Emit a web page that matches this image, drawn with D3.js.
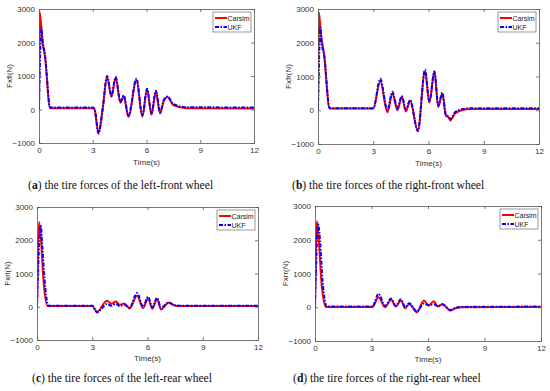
<!DOCTYPE html>
<html>
<head>
<meta charset="utf-8">
<script src="https://cdn.jsdelivr.net/npm/d3@7"></script>
<style>
  body { margin: 0; background: #fff; }
  svg { display: block; }
</style>
</head>
<body>
<div id="chart"></div>
<script>
/* data: time (s) and force (N) */
var xTicks = [0, 3, 6, 9, 12],
    yTicks = [-1000, 0, 1000, 2000, 3000];

var carsimTimeA = [0, 0.04, 0.12, 0.2, 0.33, 0.62, 3.0, 3.1, 3.32, 3.55, 3.8, 4.04, 4.28, 4.54, 4.73, 4.99, 5.44, 5.77, 6.03, 6.28, 6.52, 6.76, 6.96, 7.17, 7.5, 8.2, 12];
var carsimA     = [0, 2900, 2500, 2000, 1600, 40, 40, 0, -700, 0, 980, 380, 950, 200, 400, -220, 880, -220, 600, -150, 530, -120, 250, 370, 130, 40, 30];
var ukfTimeA    = [0, 0.13, 0.2, 0.33, 0.62, 3.0, 3.1, 3.32, 3.55, 3.8, 4.04, 4.28, 4.54, 4.73, 4.99, 5.44, 5.77, 6.03, 6.28, 6.52, 6.76, 6.96, 7.17, 7.5, 8.2, 12];
var ukfA        = [0, 2450, 2050, 1650, 60, 60, 20, -720, 0, 1000, 400, 970, 230, 420, -180, 920, -170, 620, -120, 560, -80, 280, 390, 160, 70, 60];

var carsimTimeB = [0, 0.05, 0.15, 0.33, 0.63, 3.0, 3.38, 3.77, 4.04, 4.31, 4.55, 4.77, 5.0, 5.42, 5.81, 6.05, 6.32, 6.53, 6.75, 6.95, 7.08, 7.18, 7.44, 7.8, 8.3, 12];
var carsimB     = [0, 2900, 2300, 1650, 50, 50, 850, -60, 500, 0, 400, -40, 280, -600, 1150, 230, 1150, 100, 500, -170, -200, -300, -100, 0, 40, 40];
var ukfTimeB    = [0, 0.13, 0.2, 0.33, 0.63, 3.0, 3.38, 3.77, 4.04, 4.31, 4.55, 4.77, 5.0, 5.42, 5.81, 6.05, 6.32, 6.53, 6.75, 6.95, 7.08, 7.18, 7.44, 7.8, 8.3, 12];
var ukfB        = [0, 2450, 2000, 1650, 60, 60, 930, 10, 550, 60, 420, 20, 300, -620, 1200, 250, 1150, 130, 520, -150, -180, -260, -60, 30, 60, 60];

var carsimTimeC = [0, 0.12, 0.22, 0.35, 0.58, 3.0, 3.26, 3.8, 4.04, 4.29, 4.49, 4.74, 5.03, 5.43, 5.76, 6.03, 6.26, 6.52, 6.73, 7.15, 7.45, 7.8, 12];
var carsimC     = [0, 2550, 2000, 800, 20, 20, -150, 180, 90, 160, 60, 100, -50, 330, -40, 250, -60, 230, -80, 120, 40, 20, 20];
var ukfTimeC    = [0, 0.2, 0.28, 0.4, 0.62, 3.0, 3.26, 3.8, 4.04, 4.29, 4.49, 4.74, 5.03, 5.43, 5.76, 6.03, 6.26, 6.52, 6.73, 7.15, 7.45, 7.8, 12];
var ukfC        = [0, 2450, 1900, 900, 30, 30, -170, 80, 30, 90, 20, 60, -30, 410, 0, 300, -20, 270, -30, 130, 50, 30, 30];

var carsimTimeD = [0, 0.1, 0.2, 0.35, 0.58, 3.05, 3.37, 3.72, 4.04, 4.29, 4.56, 4.79, 5.0, 5.41, 5.78, 6.03, 6.31, 6.52, 6.77, 7.18, 7.45, 7.8, 12];
var carsimD     = [0, 2550, 2000, 700, 10, 10, 300, 0, 220, 20, 200, -30, 100, -150, 200, 50, 180, 20, 100, -100, -30, 0, 10];
var ukfTimeD    = [0, 0.17, 0.27, 0.4, 0.63, 3.05, 3.37, 3.72, 4.04, 4.29, 4.56, 4.79, 5.0, 5.41, 5.78, 6.03, 6.31, 6.52, 6.77, 7.18, 7.45, 7.8, 12];
var ukfD        = [0, 2450, 1950, 800, 20, 20, 400, 40, 260, 40, 240, 0, 120, -120, 110, 60, 90, 30, 80, -80, -20, 10, 20];

var seriesNames = ["Carsim", "UKF"];

var panels = [
	{ letter: "a", caption: " the tire forces of the left-front wheel", ylabel: "Fxfl(N)",
	  left: 39, right: 254, top: 9, bottom: 143, capX: 28, capY: 189, labY: 165,
	  carsim: [carsimTimeA, carsimA], ukf: [ukfTimeA, ukfA] },
	{ letter: "b", caption: " the tire forces of the right-front wheel", ylabel: "Fxfr(N)",
	  left: 318, right: 539, top: 9, bottom: 144, capX: 292, capY: 189, labY: 166,
	  carsim: [carsimTimeB, carsimB], ukf: [ukfTimeB, ukfB] },
	{ letter: "c", caption: " the tire forces of the left-rear wheel", ylabel: "Fxrl(N)",
	  left: 37, right: 258, top: 207, bottom: 340, capX: 32, capY: 382, labY: 361,
	  carsim: [carsimTimeC, carsimC], ukf: [ukfTimeC, ukfC] },
	{ letter: "d", caption: " the tire forces of the right-rear wheel", ylabel: "Fxrr(N)",
	  left: 315, right: 541, top: 206, bottom: 341, capX: 293, capY: 382, labY: 362,
	  carsim: [carsimTimeD, carsimD], ukf: [ukfTimeD, ukfD] }
];

var width = 550,
    height = 391,
    axisColor = "#555",
    tickFont = 8;

var svg = d3.select("#chart").append("svg")
	.attr("width", width)
	.attr("height", height);

var color = d3.scaleOrdinal().domain(seriesNames).range(["#ff0000", "#0000ff"]);

var drawPanel = function(p) {
	var x = d3.scaleLinear().domain([0, 12]).range([p.left, p.right]),
	    y = d3.scaleLinear().domain([-1000, 3000]).range([p.bottom, p.top]);

	var g = svg.append("g").attr("class", "panel-" + p.letter);

	var toPoints = function(s) { return s[0].map(function(t, i) { return [t, s[1][i]]; }); };

	var line = d3.line()
		.x(function(d) { return x(d[0]); })
		.y(function(d) { return y(d[1]); })
		.curve(d3.curveMonotoneX);

	/* clip lines to plot area */
	g.append("clipPath").attr("id", "clip-" + p.letter)
		.append("rect")
		.attr("x", p.left).attr("y", p.top)
		.attr("width", p.right - p.left).attr("height", p.bottom - p.top);

	var lines = g.append("g").attr("clip-path", "url(#clip-" + p.letter + ")");

	lines.append("path")
		.attr("d", line(toPoints(p.carsim)))
		.attr("fill", "none")
		.attr("stroke", color("Carsim"))
		.attr("stroke-width", 2);

	lines.append("path")
		.attr("d", line(toPoints(p.ukf)))
		.attr("fill", "none")
		.attr("stroke", color("UKF"))
		.attr("stroke-width", 2)
		.attr("stroke-dasharray", "4,1.5,1.5,1.5");

	/* axes, MATLAB style: ticks inside, box around */
	var bottomAxis = d3.axisBottom(x).tickValues(xTicks).tickSizeInner(-3).tickSizeOuter(0).tickPadding(4),
	    topAxis = d3.axisTop(x).tickValues(xTicks).tickSizeInner(-3).tickSizeOuter(0).tickFormat(""),
	    leftAxis = d3.axisLeft(y).tickValues(yTicks).tickSizeInner(-3).tickSizeOuter(0).tickPadding(4)
	                 .tickFormat(function(d) { return d < 0 ? "\u2212" + Math.abs(d) : d; }),
	    rightAxis = d3.axisRight(y).tickValues(yTicks).tickSizeInner(-3).tickSizeOuter(0).tickFormat("");

	var axes = [
		g.append("g").attr("transform", "translate(0," + p.bottom + ")").call(bottomAxis),
		g.append("g").attr("transform", "translate(0," + p.top + ")").call(topAxis),
		g.append("g").attr("transform", "translate(" + p.left + ",0)").call(leftAxis),
		g.append("g").attr("transform", "translate(" + p.right + ",0)").call(rightAxis)
	];

	axes.forEach(function(a) {
		a.selectAll("path, line").attr("stroke", axisColor).attr("stroke-width", 0.8);
		a.selectAll("text")
			.attr("fill", "#333")
			.attr("font-family", "Liberation Sans, Arial, sans-serif")
			.attr("font-size", tickFont);
	});

	g.append("text")
		.attr("x", (p.left + p.right) / 2)
		.attr("y", p.labY)
		.attr("text-anchor", "middle")
		.attr("font-family", "Liberation Sans, Arial, sans-serif")
		.attr("font-size", 8)
		.attr("fill", "#333")
		.text("Time(s)");

	g.append("text")
		.attr("transform", "translate(" + (p.left - 27) + "," + ((p.top + p.bottom) / 2) + ") rotate(-90)")
		.attr("text-anchor", "middle")
		.attr("font-family", "Liberation Sans, Arial, sans-serif")
		.attr("font-size", 8)
		.attr("fill", "#333")
		.text(p.ylabel);

	/* legend */
	var lw = 38, lh = 20,
	    lx = p.right - lw - 3, ly = p.top + 3;

	var legend = g.append("g").attr("transform", "translate(" + lx + "," + ly + ")");

	legend.append("rect")
		.attr("width", lw).attr("height", lh)
		.attr("fill", "#fff")
		.attr("stroke", "#555")
		.attr("stroke-width", 0.6);

	var item = legend.selectAll(".item")
		.data(seriesNames)
		.enter().append("g")
		.attr("transform", function(d, i) { return "translate(0," + (6 + i * 9) + ")"; });

	item.append("line")
		.attr("x1", 2).attr("x2", 14)
		.attr("stroke", color)
		.attr("stroke-width", 2)
		.attr("stroke-dasharray", function(d) { return d == "UKF" ? "4,1.5,1.5,1.5" : null; });

	item.append("text")
		.attr("x", 14.5)
		.attr("y", 2.5)
		.attr("font-family", "Liberation Sans, Arial, sans-serif")
		.attr("font-size", 7)
		.attr("fill", "#222")
		.text(function(d) { return d; });

	/* caption */
	var cap = g.append("text")
		.attr("x", p.capX)
		.attr("y", p.capY)
		.attr("font-family", "Liberation Serif, serif")
		.attr("font-size", 11.6)
		.attr("fill", "#111");

	cap.append("tspan").text("(");
	cap.append("tspan").attr("font-weight", "bold").text(p.letter);
	cap.append("tspan").text(")" + p.caption);
}

panels.forEach(drawPanel);
</script>
</body>
</html>
